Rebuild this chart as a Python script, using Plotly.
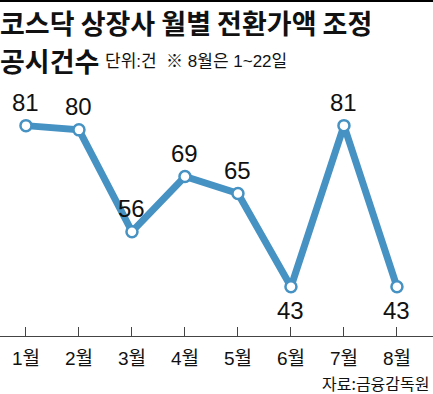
import plotly.graph_objects as go

months = ["1월", "2월", "3월", "4월", "5월", "6월", "7월", "8월"]
counts = [81, 80, 56, 69, 65, 43, 81, 43]
label_above = [True, True, True, True, True, False, True, False]

title_line1 = "코스닥 상장사 월별 전환가액 조정"
title_line2 = "공시건수"
subtitle = "단위:건  ※ 8월은 1~22일"
source = "자료:금융감독원"

BLUE = "#4692c3"
NUM_FONT = "Liberation Sans, Noto Sans CJK KR"
KR_FONT = "Noto Sans CJK KR"

fig = go.Figure()
fig.add_trace(go.Scatter(
    x=months, y=counts,
    mode="lines+markers",
    line=dict(color=BLUE, width=7),
    marker=dict(size=11, color="white", line=dict(color=BLUE, width=2.5)),
    cliponaxis=False,
    hoverinfo="skip",
))

annotations = []
for m, v, up in zip(months, counts, label_above):
    annotations.append(dict(
        x=m, y=v, xref="x", yref="y", text=str(v), showarrow=False,
        xanchor="center", yanchor="middle", yshift=23 if up else -24,
        font=dict(family=NUM_FONT, size=24, color="#111")))

annotations += [
    dict(text="<b>" + title_line1 + "</b>", xref="paper", yref="paper", x=0, y=1,
         xanchor="left", yanchor="middle", yshift=90 - 22, xshift=-2,
         showarrow=False, font=dict(family=KR_FONT, size=27, color="#111")),
    dict(text="<b>" + title_line2 + "</b>", xref="paper", yref="paper", x=0, y=1,
         xanchor="left", yanchor="middle", yshift=90 - 60, xshift=-2,
         showarrow=False, font=dict(family=KR_FONT, size=27, color="#111")),
    dict(text=subtitle, xref="paper", yref="paper", x=0, y=1,
         xanchor="left", yanchor="middle", yshift=90 - 61, xshift=103,
         showarrow=False, font=dict(family=NUM_FONT, size=17, color="#111")),
    dict(text=source, xref="paper", yref="paper", x=1, y=0,
         xanchor="right", yanchor="middle", yshift=-(383 - 336), xshift=-1,
         showarrow=False, font=dict(family=KR_FONT, size=16, color="#111")),
]

fig.update_layout(
    width=433, height=394,
    margin=dict(l=0, r=0, t=90, b=58),
    paper_bgcolor="white", plot_bgcolor="white",
    showlegend=False,
    xaxis=dict(
        type="category", range=[-0.49, 7.68],
        showgrid=False, zeroline=False,
        showline=True, linecolor="#444", linewidth=1,
        ticks="inside", ticklen=9, tickcolor="#444", tickwidth=1,
        tickfont=dict(family=NUM_FONT, size=19, color="#111"),
        ticklabelstandoff=5,
    ),
    yaxis=dict(range=[31.4, 89.4], visible=False),
    shapes=[dict(type="line", xref="paper", yref="paper", x0=0, x1=1,
                 ysizemode="pixel", yanchor=1, y0=89, y1=89,
                 line=dict(color="black", width=2))],
    annotations=annotations,
)

fig.write_html("out.html", config={"displayModeBar": False},
               post_script="document.body.style.margin='0';")
